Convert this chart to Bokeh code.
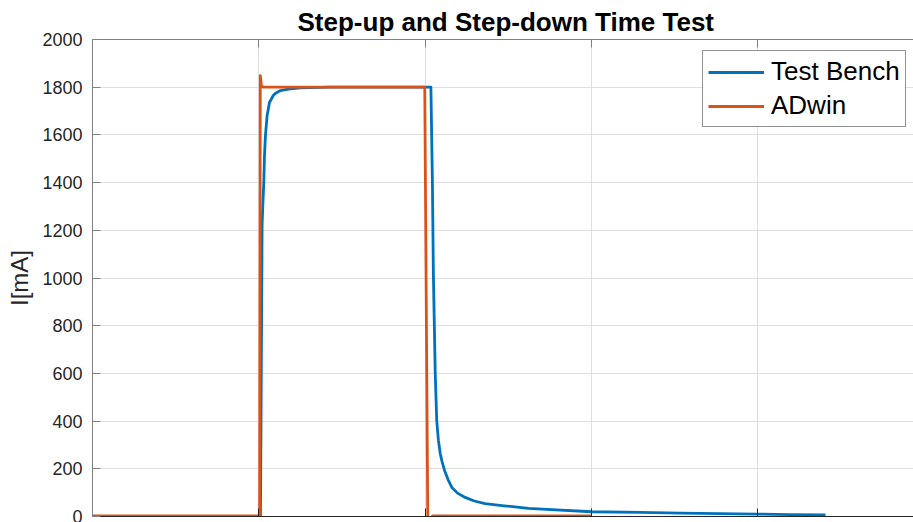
from bokeh.plotting import figure
from bokeh.models import Range1d, LinearAxis, Legend, LegendItem, FixedTicker
from bokeh.embed import file_html
from bokeh.resources import INLINE

# ---- data ----
bench_t = [0.0, 1.007, 1.010, 1.020, 1.025, 1.030, 1.034, 1.040, 1.050, 1.059,
           1.064, 1.087, 1.101, 1.130, 1.179, 1.251, 1.311, 1.431, 2.035, 2.044,
           2.050, 2.061, 2.070, 2.080, 2.091, 2.102, 2.117, 2.138, 2.161, 2.195,
           2.241, 2.296, 2.361, 2.475, 2.622, 3.000, 3.295, 3.536, 3.776, 3.999,
           4.197, 4.408]
bench_i = [0, 0, 0, 1220, 1320, 1400, 1510, 1597, 1681, 1715,
           1736, 1765, 1775, 1786, 1792, 1797, 1798, 1800, 1800, 1400,
           1010, 600, 402, 320, 264, 230, 193, 155, 122, 98,
           80, 65, 54, 45, 34, 20, 17, 14, 12, 10,
           8, 7]

adwin_t = [0.0, 1.005, 1.009, 1.016, 1.028, 1.998, 2.016, 2.031, 2.045, 3.0]
adwin_i = [2, 2, 1848, 1805, 1800, 1800, 0, -8, 2, 2]

y_ticks = [0, 200, 400, 600, 800, 1000, 1200, 1400, 1600, 1800, 2000]
x_ticks = [0, 1, 2, 3, 4]

FONT = "Liberation Sans"
BLUE = "#0072BD"
RED = "#D95319"

p = figure(frame_width=821, frame_height=477, output_backend="svg",
           toolbar_location=None, x_range=Range1d(0, 4.937),
           y_range=Range1d(0, 2000),
           min_border_left=92, min_border_right=0, min_border_top=39,
           min_border_bottom=6, background_fill_color="white",
           border_fill_color="white")
p.outline_line_color = None

p.title.text = "Step-up and Step-down Time Test"
p.title.align = "left"
p.title.offset = 205
p.title.standoff = 6
p.title.text_font = FONT
p.title.text_font_size = "26px"
p.title.text_font_style = "bold"
p.title.text_color = "#000000"

# grid
p.xgrid.ticker = FixedTicker(ticks=x_ticks)
p.ygrid.ticker = FixedTicker(ticks=y_ticks)
for g in (p.xgrid, p.ygrid):
    g.grid_line_color = "#dfdfdf"
    g.grid_line_width = 1

# y axis
ya = p.yaxis[0]
ya.ticker = FixedTicker(ticks=y_ticks)
ya.axis_label = "I[mA]"
ya.axis_label_text_font = FONT
ya.axis_label_text_font_size = "24px"
ya.axis_label_text_font_style = "normal"
ya.axis_label_text_color = "#262626"
ya.axis_label_standoff = 6
ya.major_label_text_font = FONT
ya.major_label_text_font_size = "18px"
ya.major_label_text_color = "#262626"
ya.major_label_standoff = 10
ya.major_tick_in = 8
ya.major_tick_out = 0
ya.minor_tick_in = 0
ya.minor_tick_out = 0
ya.axis_line_color = "#808080"
ya.major_tick_line_color = "#808080"

# bottom axis (its labels are cut off in the reference)
xa = p.xaxis[0]
xa.ticker = FixedTicker(ticks=x_ticks)
xa.major_label_text_font_size = "1px"
xa.major_label_text_color = None
xa.major_label_standoff = 0
xa.major_tick_in = 8
xa.major_tick_out = 0
xa.minor_tick_in = 0
xa.minor_tick_out = 0
xa.axis_line_color = "#262626"
xa.major_tick_line_color = "#262626"

# top axis (box)
ta = LinearAxis(ticker=FixedTicker(ticks=x_ticks))
ta.major_label_text_font_size = "1px"
ta.major_label_text_color = None
ta.major_label_standoff = 0
ta.major_tick_in = 8
ta.major_tick_out = 0
ta.minor_tick_in = 0
ta.minor_tick_out = 0
ta.axis_line_color = "#808080"
ta.major_tick_line_color = "#808080"
p.add_layout(ta, "above")

r_bench = p.line(bench_t, bench_i, line_color=BLUE, line_width=2.8,
                 line_join="round")
r_adwin = p.line(adwin_t, adwin_i, line_color=RED, line_width=2.8,
                 line_join="round")

legend = Legend(items=[LegendItem(label="Test Bench", renderers=[r_bench]),
                       LegendItem(label="ADwin", renderers=[r_adwin])],
                location=(610, 389))
legend.label_text_font = FONT
legend.label_text_font_size = "26px"
legend.label_text_color = "#000000"
legend.glyph_width = 56
legend.glyph_height = 28
legend.label_height = 28
legend.label_standoff = 7
legend.spacing = 3
legend.padding = 5
legend.margin = 0
legend.border_line_color = "#262626"
legend.border_line_width = 1
legend.background_fill_color = "white"
legend.background_fill_alpha = 1
p.add_layout(legend, "center")

open("out.html", "w").write(file_html(p, INLINE))
